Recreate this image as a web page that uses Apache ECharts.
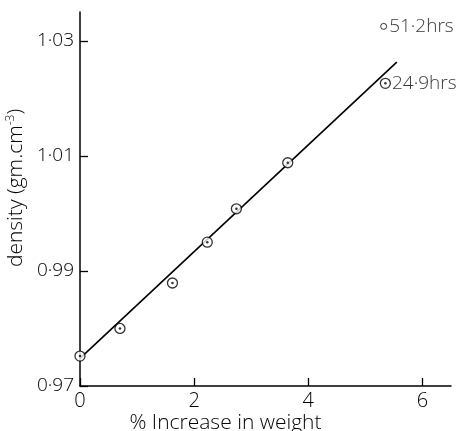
<!DOCTYPE html>
<html>
<head>
<meta charset="utf-8">
<script src="https://cdn.jsdelivr.net/npm/echarts@6/dist/echarts.min.js"></script>
<style>
  html, body { margin: 0; padding: 0; background: #fff; }
  #chart { width: 470px; height: 431px; }
</style>
</head>
<body>
<div id="chart"></div>
<script>
// measured points: % increase in weight vs density
const weightPct = [0, 0.70, 1.62, 2.23, 2.74, 3.64, 5.35];
const density = [0.9752, 0.9800, 0.9879, 0.9950, 1.0008, 1.0088, 1.0226];
const pointLabels = ['', '', '', '', '', '', '24·9hrs'];

// the single 51.2 hr point (small open circle)
const lateWeight = [5.32];
const lateDensity = [1.0325];
const lateLabels = ['51·2hrs'];

// fitted straight line
const fitX = [0, 5.55];
const fitY = [0.9748, 1.0263];

const xTicks = [0, 2, 4, 6];
const yTicks = [0.97, 0.99, 1.01, 1.03];
const yTickText = ['0·97', '0·99', '1·01', '1·03'];

const ink = '#000';
const font = 'Open Sans';
const fw = 300;

const chart = echarts.init(document.getElementById('chart'));

const option = {
  animation: false,
  backgroundColor: '#fff',
  grid: { left: 80, right: 19, top: 12, bottom: 45, outerBoundsMode: 'none' },
  xAxis: {
    type: 'value', min: 0, max: 6.5,
    name: '% Increase in weight',
    nameLocation: 'middle', nameGap: 26, nameMoveOverlap: false,
    nameTextStyle: { color: ink, fontFamily: font, fontSize: 21, fontWeight: fw, lineHeight: 22, padding: [0, 80, 0, 0] },
    axisLine: { show: true, onZero: false, lineStyle: { color: ink, width: 1.5 } },
    axisTick: { show: true, inside: true, length: 8, customValues: xTicks, lineStyle: { color: ink, width: 1.3 } },
    axisLabel: { customValues: xTicks, color: ink, fontFamily: font, fontSize: 20, fontWeight: fw, margin: 5 },
    splitLine: { show: false }
  },
  yAxis: {
    type: 'value', min: 0.97, max: 1.035,
    name: '{t|density (gm.cm}{s|-3}{t|)}',
    nameLocation: 'middle', nameGap: 48, nameRotate: 90,
    nameTextStyle: {
      padding: [0, 0, 0, 22],
      rich: {
        t: { color: ink, fontFamily: font, fontSize: 21, fontWeight: fw },
        s: { color: ink, fontFamily: font, fontSize: 12, fontWeight: fw, verticalAlign: 'top', padding: [0, 0, 10, 0] }
      }
    },
    axisLine: { show: true, onZero: false, lineStyle: { color: ink, width: 1.5 } },
    axisTick: { show: true, inside: true, length: 8, customValues: yTicks, lineStyle: { color: ink, width: 1.3 } },
    axisLabel: {
      customValues: yTicks, color: ink, fontFamily: font, fontSize: 19, fontWeight: fw, margin: 6,
      formatter: v => {
        const i = yTicks.findIndex(t => Math.abs(t - v) < 1e-6);
        return i >= 0 ? yTickText[i] : '';
      }
    },
    splitLine: { show: false }
  },
  series: [
    {
      type: 'line',
      data: fitX.map((x, i) => [x, fitY[i]]),
      symbol: 'none',
      lineStyle: { color: ink, width: 1.6 },
      z: 1
    },
    {
      type: 'scatter',
      data: weightPct.map((x, i) => [x, density[i]]),
      symbol: 'circle', symbolSize: 10,
      itemStyle: { color: '#fff', borderColor: ink, borderWidth: 1.3 },
      label: {
        show: true, position: 'right', distance: 1,
        formatter: p => pointLabels[p.dataIndex],
        color: ink, fontFamily: font, fontSize: 19, fontWeight: fw
      },
      z: 2
    },
    {
      type: 'scatter',
      data: weightPct.map((x, i) => [x, density[i]]),
      symbol: 'circle', symbolSize: 2.5,
      itemStyle: { color: ink },
      silent: true,
      z: 3
    },
    {
      type: 'scatter',
      data: lateWeight.map((x, i) => [x, lateDensity[i]]),
      symbol: 'circle', symbolSize: 6,
      itemStyle: { color: '#fff', borderColor: ink, borderWidth: 1 },
      label: {
        show: true, position: 'right', distance: 2,
        formatter: p => lateLabels[p.dataIndex],
        color: ink, fontFamily: font, fontSize: 19, fontWeight: fw
      },
      z: 2
    }
  ]
};

chart.setOption(option);
</script>
</body>
</html>
